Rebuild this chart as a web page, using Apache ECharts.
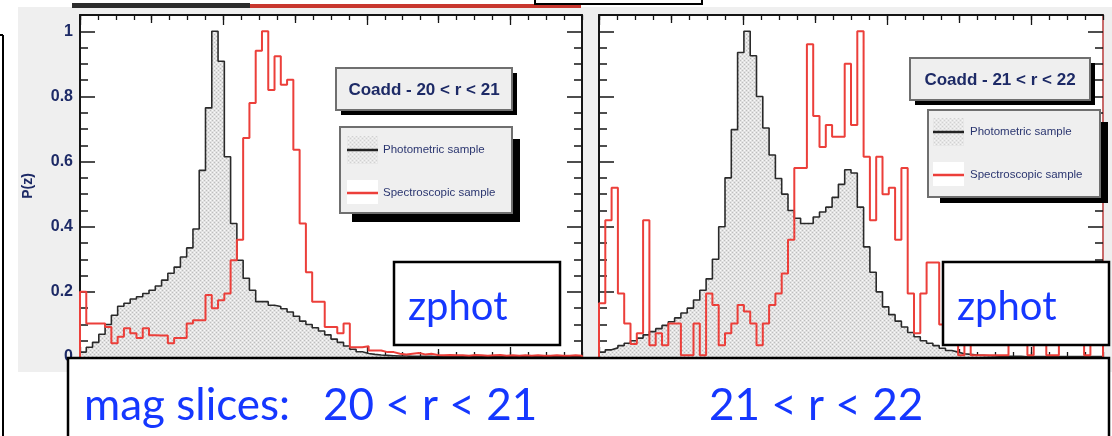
<!DOCTYPE html>
<html><head><meta charset="utf-8">
<script src="https://cdn.jsdelivr.net/npm/echarts@6/dist/echarts.min.js"></script>
<style>
html,body{margin:0;padding:0;background:#fff;}
#wrap{position:relative;width:1112px;height:436px;overflow:hidden;background:#fff;}
#bg{position:absolute;left:18px;top:7px;width:1094px;height:365px;background:#efefef;}
#chart{position:absolute;left:0;top:0;width:1112px;height:436px;}
</style></head>
<body><div id="wrap"><div id="bg"></div><div id="chart"></div></div>
<script>
// ---------------- data ----------------
const N_BINS = 80;
const Z_MIN = 0, Z_MAX = 1.4;
const binEdges = Array.from({length: N_BINS + 1}, (_, i) => +(Z_MIN + i * (Z_MAX - Z_MIN) / N_BINS).toFixed(5));

const photLeft = [
  0.015,0.03,0.045,0.07,0.1,0.128,0.156,0.165,0.178,0.185,
  0.195,0.205,0.218,0.236,0.257,0.276,0.307,0.335,0.393,0.573,
  0.765,1.0,0.908,0.615,0.41,0.297,0.242,0.205,0.17,0.17,
  0.159,0.155,0.148,0.138,0.125,0.11,0.1,0.09,0.08,0.068,
  0.055,0.045,0.034,0.024,0.016,0.011,0.008,0.006,0.005,0.004,
  0.003,0.003,0.002,0.002,0.002,0.002,0.001,0.001,0.001,0.001,
  0.001,0.001,0.001,0.001,0.001,0.001,0.001,0.001,0.001,0.001,
  0.001,0.001,0.001,0.001,0.001,0.001,0.001,0.001,0.001,0.001];
const specLeft = [
  0.2,0.103,0.103,0.103,0.092,0.042,0.062,0.088,0.073,0.058,
  0.088,0.067,0.066,0.066,0.042,0.058,0.058,0.103,0.113,0.113,
  0.19,0.15,0.174,0.195,0.297,0.36,0.672,0.78,0.94,1.0,
  0.82,0.923,0.836,0.851,0.636,0.41,0.26,0.17,0.17,0.092,
  0.092,0.073,0.103,0.03,0.03,0.033,0.02,0.02,0.015,0.015,
  0.01,0.008,0.01,0.012,0.008,0.01,0.006,0.005,0.006,0.005,
  0.005,0.004,0.006,0.005,0.004,0.005,0.006,0.004,0.005,0.004,
  0.005,0.004,0.005,0.004,0.004,0.005,0.004,0.004,0.005,0.004];
const photRight = [
  0.015,0.022,0.028,0.035,0.042,0.05,0.058,0.068,0.078,0.087,
  0.097,0.108,0.12,0.135,0.15,0.175,0.205,0.24,0.3,0.4,
  0.55,0.698,0.935,1.0,0.925,0.8,0.703,0.62,0.548,0.5,
  0.45,0.426,0.41,0.41,0.43,0.445,0.46,0.49,0.53,0.575,
  0.565,0.46,0.338,0.26,0.2,0.154,0.13,0.11,0.092,0.075,
  0.062,0.05,0.042,0.035,0.027,0.02,0.015,0.01,0.008,0.006,
  0.005,0.004,0.003,0.002,0.002,0.002,0.002,0.001,0.001,0.001,
  0.001,0.001,0.001,0.001,0.001,0.001,0.001,0.001,0.001,0.001];
const specRight = [
  0.165,0.42,0.52,0.195,0.103,0.04,0.073,0.42,0.036,0.073,
  0.036,0.103,0.103,0.005,0.005,0.103,0.005,0.195,0.16,0.036,
  0.073,0.103,0.16,0.14,0.103,0.036,0.103,0.16,0.195,0.256,
  0.36,0.58,0.58,0.96,0.74,0.645,0.712,0.676,0.676,0.9,
  0.712,1.0,0.615,0.42,0.615,0.5,0.52,0.36,0.58,0.195,
  0.073,0.195,0.29,0.29,0.1,0.2,0.12,0.005,0.1,0.005,
  0.005,0.005,0.005,0.005,0.005,0.06,0.06,0.06,0.005,0.06,
  0.06,0.005,0.005,0.06,0.06,0.06,0.06,0.005,0.06,0.06];

const yMajorTicks = [0, 0.2, 0.4, 0.6, 0.8, 1];
const yMinorTicks = Array.from({length: 22}, (_, k) => +(k * 0.05).toFixed(2));
const xMajorTicks = [0, 0.4, 0.8, 1.2];
const xMidTicks = [0.2, 0.6, 1.0];
const xMinorTicks = Array.from({length: 29}, (_, k) => +(k * 0.05).toFixed(2));

const yTitle = 'P(z)';
const legendLabels = ['Photometric sample', 'Spectroscopic sample'];
const panelTitles = ['Coadd - 20 < r < 21', 'Coadd - 21 < r < 22'];
const sliceLabels = ['mag slices:', '20 < r < 21', '21 < r < 22'];
const boxLabel = 'zphot';

// ---------------- styling ----------------
const AXC = '#151515';
const NAVY = '#1d2a66';
const BLUE = '#1537ff';
const RED = '#ec3f3a';

const pat = (() => {
  const c = document.createElement('canvas'); c.width = 4; c.height = 4;
  const g = c.getContext('2d');
  g.fillStyle = '#e2e2e2'; g.fillRect(0, 0, 4, 4);
  g.fillStyle = '#bdbdbd'; g.fillRect(0, 0, 1, 1); g.fillRect(2, 2, 1, 1);
  g.fillStyle = '#f9f9f9'; g.fillRect(2, 0, 1, 1); g.fillRect(0, 2, 1, 1);
  return c;
})();
const PATTERN = {image: pat, repeat: 'repeat'};

function histPoints(values) {
  const pts = [[binEdges[0], 0]];
  values.forEach((v, i) => pts.push([binEdges[i], v]));
  pts.push([binEdges[N_BINS], values[N_BINS - 1]]);
  pts.push([binEdges[N_BINS], 0]);
  return pts;
}

function xAx(g, pos, ticks, len, showLine) {
  return {type: 'value', gridIndex: g, position: pos, min: Z_MIN, max: Z_MAX,
    axisLine: {show: showLine, onZero: false, lineStyle: {color: AXC, width: 2}},
    axisTick: {show: true, inside: true, length: len, customValues: ticks, lineStyle: {color: AXC, width: 1.3}},
    axisLabel: {show: false}, splitLine: {show: false}};
}
function yAx(g, pos, ticks, len, showLine, lineColor) {
  return {type: 'value', gridIndex: g, position: pos, min: 0, max: 1.05,
    axisLine: {show: showLine, onZero: false, lineStyle: {color: lineColor || AXC, width: 2}},
    axisTick: {show: true, inside: true, length: len, customValues: ticks, lineStyle: {color: AXC, width: 1.5}},
    axisLabel: {show: false}, splitLine: {show: false}};
}

const xAxes = [];
const yAxes = [];
[0, 1].forEach(g => {
  xAxes.push(xAx(g, 'bottom', xMajorTicks, 10, true));
  xAxes.push(xAx(g, 'bottom', xMidTicks, 8, false));
  xAxes.push(xAx(g, 'bottom', xMinorTicks, 5, false));
  xAxes.push(xAx(g, 'top', xMajorTicks, 10, true));
  xAxes.push(xAx(g, 'top', xMidTicks, 8, false));
  xAxes.push(xAx(g, 'top', xMinorTicks, 5, false));
  const yl = yAx(g, 'left', yMajorTicks, 15, true);
  if (g === 0) {
    yl.axisLabel = {show: true, customValues: yMajorTicks, color: NAVY, fontWeight: 'bold',
      fontSize: 16, fontFamily: 'Liberation Sans', margin: 7};
    yl.name = yTitle; yl.nameLocation = 'middle'; yl.nameGap = 45; yl.nameRotate = 90;
    yl.nameTextStyle = {color: NAVY, fontWeight: 'bold', fontSize: 14, fontFamily: 'Liberation Sans'};
  }
  yAxes.push(yl);
  yAxes.push(yAx(g, 'left', yMinorTicks, 8, false));
  yAxes.push(yAx(g, 'right', yMajorTicks, 15, true, g === 1 ? '#c86a6a' : AXC));
  yAxes.push(yAx(g, 'right', yMinorTicks, 8, false));
});

const panels = [
  {phot: photLeft, spec: specLeft, g: 0},
  {phot: photRight, spec: specRight, g: 1}
];
const series = [];
panels.forEach(p => {
  series.push({type: 'line', name: legendLabels[0], xAxisIndex: p.g * 6, yAxisIndex: p.g * 4,
    data: histPoints(p.phot), step: 'end', symbol: 'none', silent: true,
    lineStyle: {color: '#2a2a2a', width: 1.6}, areaStyle: {color: PATTERN, opacity: 1}, z: 2});
  series.push({type: 'line', name: legendLabels[1], xAxisIndex: p.g * 6, yAxisIndex: p.g * 4,
    data: histPoints(p.spec), step: 'end', symbol: 'none', silent: true,
    lineStyle: {color: RED, width: 2}, z: 3});
});

// overlay boxes
function txt(x, y, text, o) {
  return Object.assign({type: 'text', x: x, y: y, z: 120, silent: true,
    style: Object.assign({text: text, align: 'left', textAlign: 'left', verticalAlign: 'middle', textVerticalAlign: 'middle'}, o)});
}
function rect(x, y, w, h, style, z) {
  return {type: 'rect', shape: {x: x, y: y, width: w, height: h}, style: style, z: z || 100, silent: true};
}
function line(x1, y1, x2, y2, stroke, lw, z) {
  return {type: 'line', shape: {x1: x1, y1: y1, x2: x2, y2: y2}, style: {stroke: stroke, lineWidth: lw}, z: z || 110, silent: true};
}

const titleFont = {fontSize: 17, fontWeight: 'bold', fontFamily: 'Liberation Sans', fill: NAVY, align: 'center', textAlign: 'center'};
const legFont = {fontSize: 11.5, fontFamily: 'Liberation Sans', fill: '#2b3670'};
const bigFont = {fontSize: 44, fontFamily: 'Lato', fill: BLUE};
const zFont = {fontSize: 40, fontFamily: 'Lato', fill: BLUE};

const boxes = [
  {tb: [336, 68, 176, 42], ts: 5, lb: [340, 127, 172, 86], ls: [352, 139, 168, 83], sym: 347, tx: 383, ly: [150, 193], zb: [394, 262, 166, 83], zx: 408, title: panelTitles[0]},
  {tb: [910, 58, 180, 42], ts: 5, lb: [928, 110, 172, 87], ls: [940, 122, 168, 81], sym: 933, tx: 970, ly: [132, 175], zb: [943, 262, 166, 83], zx: 957, title: panelTitles[1]}
];

const elements = [];
// top remnants
elements.push(rect(72, 3, 178, 5, {fill: '#2c2c2c'}, 90));
elements.push(rect(250, 4, 331, 4, {fill: '#c8362e'}, 90));
elements.push(rect(535, -6, 167, 10, {fill: '#fff', stroke: '#000', lineWidth: 2}, 91));
// left edge frame line
elements.push(line(3, 35, 3, 440, '#000', 2, 91));
elements.push(line(0, 35, 3, 35, '#000', 2, 91));

boxes.forEach(b => {
  elements.push(rect(b.tb[0] + b.ts, b.tb[1] + b.ts, b.tb[2], b.tb[3], {fill: '#000'}, 100));
  elements.push(rect(b.tb[0], b.tb[1], b.tb[2], b.tb[3], {fill: '#efefef', stroke: '#6f6f6f', lineWidth: 2}, 101));
  elements.push(txt(b.tb[0] + b.tb[2] / 2, b.tb[1] + b.tb[3] / 2 + 1, b.title, titleFont));
  elements.push(rect(b.ls[0], b.ls[1], b.ls[2], b.ls[3], {fill: '#000'}, 100));
  elements.push(rect(b.lb[0], b.lb[1], b.lb[2], b.lb[3], {fill: '#efefef', stroke: '#6f6f6f', lineWidth: 2}, 101));
  elements.push(rect(b.sym, b.ly[0] - 14, 31, 28, {fill: PATTERN, opacity: 0.6}, 102));
  elements.push(line(b.sym, b.ly[0], b.sym + 31, b.ly[0], '#222', 2.5, 103));
  elements.push(rect(b.sym, b.ly[1] - 13, 31, 24, {fill: '#fff'}, 102));
  elements.push(line(b.sym, b.ly[1], b.sym + 31, b.ly[1], RED, 2.5, 103));
  elements.push(txt(b.tx, b.ly[0], legendLabels[0], legFont));
  elements.push(txt(b.tx, b.ly[1], legendLabels[1], legFont));
  elements.push(rect(b.zb[0], b.zb[1], b.zb[2], b.zb[3], {fill: '#fff', stroke: '#000', lineWidth: 2.5}, 104));
  elements.push(txt(b.zx, 320 - 0.32 * 40, boxLabel, zFont));
});

// bottom box
elements.push(rect(68, 358, 1041, 90, {fill: '#fff', stroke: '#000', lineWidth: 2.5}, 130));
const sliceX = [84, 323, 709];
sliceLabels.forEach((s, i) => {
  const t = txt(sliceX[i], 420 - 0.32 * 44, s, bigFont);
  t.z = 131;
  elements.push(t);
});

const chart = echarts.init(document.getElementById('chart'), null, {renderer: 'canvas'});
chart.setOption({
  animation: false,
  backgroundColor: 'transparent',
  grid: [
    {left: 80, top: 15, width: 502, height: 342, show: true, backgroundColor: '#fff', borderWidth: 0},
    {left: 599, top: 15, width: 504, height: 342, show: true, backgroundColor: '#fff', borderWidth: 0}
  ],
  xAxis: xAxes,
  yAxis: yAxes,
  series: series,
  graphic: {elements: elements}
});
</script>
</body></html>
